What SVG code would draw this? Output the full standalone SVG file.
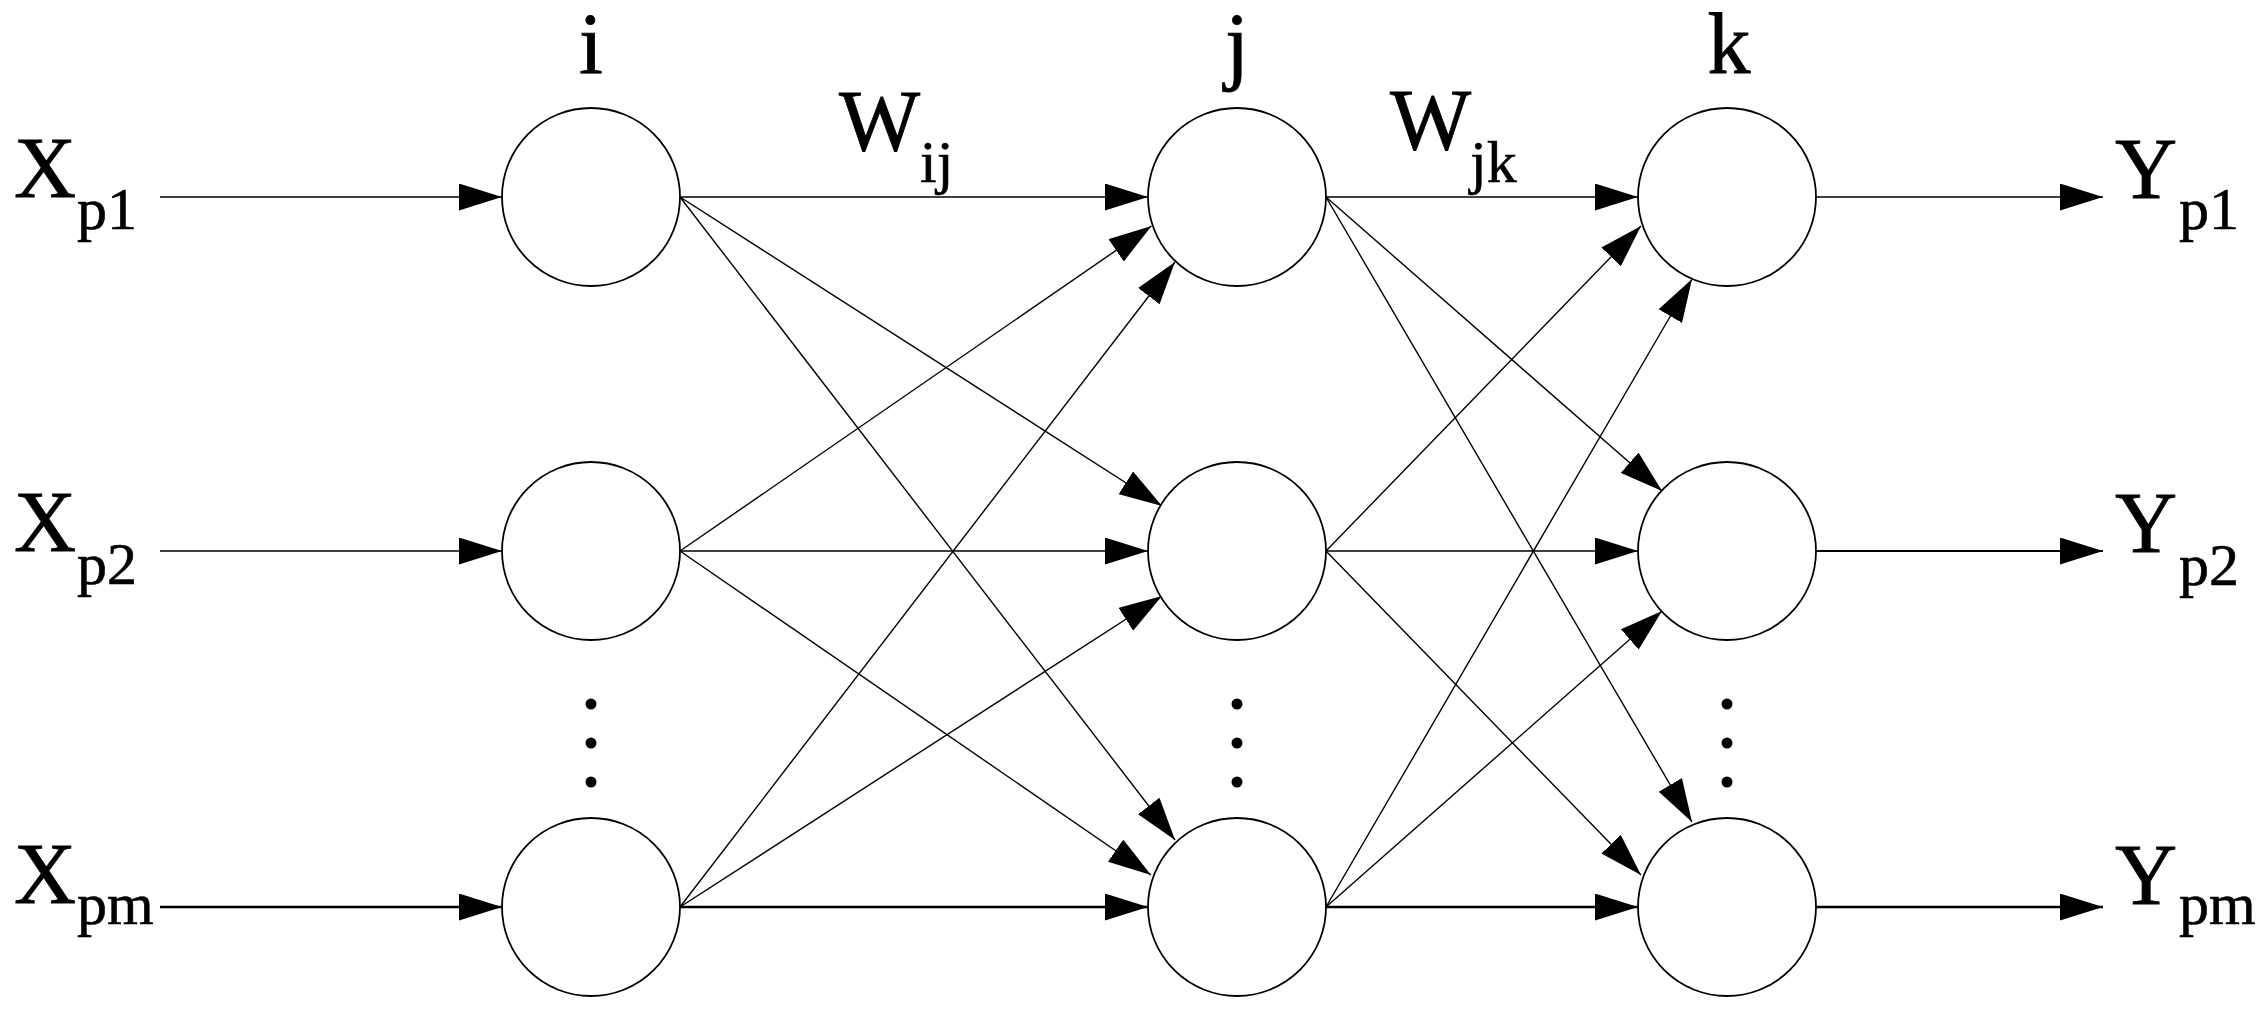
<svg xmlns="http://www.w3.org/2000/svg" width="2267" height="1014" viewBox="0 0 2267 1014">
<style>
.bg{fill:#fff}
.node{fill:#fff;stroke:#000;stroke-width:1.8}
.c{stroke:#000;stroke-width:1.4;fill:none;marker-end:url(#ah)}
.c.thick{stroke-width:2.4}
.c.mid{stroke-width:1.9}
.t{font-family:"Liberation Serif","Times New Roman",serif;fill:#000;stroke:#000;stroke-width:0.8;font-size:86px}
.s{font-size:60px;stroke-width:0.6}
.dot{fill:#000}
</style>
<defs>
<marker id="ah" markerUnits="userSpaceOnUse" markerWidth="43" markerHeight="27" refX="43" refY="13.5" orient="auto" viewBox="0 0 43 27">
<path d="M0,0 L43,13.5 L0,27 Z" fill="#000"/>
</marker>
</defs>
<rect class="bg" x="0" y="0" width="2267" height="1014"/>

<g id="connectors">
<!-- inputs -->
<line class="c" x1="160" y1="197" x2="502" y2="197"/>
<line class="c" x1="160" y1="551" x2="502" y2="551"/>
<line class="c thick" x1="160" y1="907" x2="502" y2="907"/>
<!-- i to j -->
<line class="c" x1="680" y1="197" x2="1148" y2="197"/>
<line class="c" x1="680" y1="197" x2="1162" y2="506"/>
<line class="c" x1="680" y1="197" x2="1175" y2="840"/>
<line class="c" x1="680" y1="551" x2="1151.5" y2="226"/>
<line class="c" x1="680" y1="551" x2="1148" y2="551"/>
<line class="c" x1="680" y1="551" x2="1151" y2="875"/>
<line class="c" x1="680" y1="907" x2="1175" y2="262"/>
<line class="c" x1="680" y1="907" x2="1162" y2="596"/>
<line class="c thick" x1="680" y1="907" x2="1148" y2="907"/>
<!-- j to k -->
<line class="c" x1="1326" y1="197" x2="1638" y2="197"/>
<line class="c" x1="1326" y1="197" x2="1662" y2="491"/>
<line class="c" x1="1326" y1="197" x2="1692" y2="822"/>
<line class="c" x1="1326" y1="551" x2="1641" y2="226"/>
<line class="c" x1="1326" y1="551" x2="1638" y2="551"/>
<line class="c" x1="1326" y1="551" x2="1641" y2="875"/>
<line class="c" x1="1326" y1="907" x2="1692" y2="279"/>
<line class="c" x1="1326" y1="907" x2="1662" y2="611"/>
<line class="c thick" x1="1326" y1="907" x2="1638" y2="907"/>
<!-- outputs -->
<line class="c" x1="1816" y1="197" x2="2103" y2="197"/>
<line class="c mid" x1="1816" y1="551" x2="2103" y2="551"/>
<line class="c thick" x1="1816" y1="907" x2="2103" y2="907"/>
</g>

<g id="node-i1"><circle class="node" cx="591" cy="197" r="89"/></g>
<g id="node-i2"><circle class="node" cx="591" cy="551" r="89"/></g>
<g id="node-i3"><circle class="node" cx="591" cy="907" r="89"/></g>
<g id="node-j1"><circle class="node" cx="1237" cy="197" r="89"/></g>
<g id="node-j2"><circle class="node" cx="1237" cy="551" r="89"/></g>
<g id="node-j3"><circle class="node" cx="1237" cy="907" r="89"/></g>
<g id="node-k1"><circle class="node" cx="1727" cy="197" r="89"/></g>
<g id="node-k2"><circle class="node" cx="1727" cy="551" r="89"/></g>
<g id="node-k3"><circle class="node" cx="1727" cy="907" r="89"/></g>

<g id="ellipsis-dots">
<circle class="dot" cx="591" cy="704" r="5.5"/>
<circle class="dot" cx="591" cy="743" r="5.5"/>
<circle class="dot" cx="591" cy="782" r="5.5"/>
<circle class="dot" cx="1237" cy="704" r="5.5"/>
<circle class="dot" cx="1237" cy="743" r="5.5"/>
<circle class="dot" cx="1237" cy="782" r="5.5"/>
<circle class="dot" cx="1727" cy="704" r="5.5"/>
<circle class="dot" cx="1727" cy="743" r="5.5"/>
<circle class="dot" cx="1727" cy="782" r="5.5"/>
</g>

<g id="labels">
<text class="t" x="591" y="73" text-anchor="middle">i</text>
<text class="t" x="1237" y="73" text-anchor="middle">j</text>
<text class="t" x="1729" y="73" text-anchor="middle">k</text>
<text class="t" x="839" y="150">W</text>
<text class="t s" x="920" y="182">ij</text>
<text class="t" x="1390" y="149">W</text>
<text class="t s" x="1470" y="182">jk</text>

<text class="t" x="14" y="197">X</text>
<text class="t s" x="77" y="229">p1</text>
<text class="t" x="14" y="551">X</text>
<text class="t s" x="77" y="584">p2</text>
<text class="t" x="14" y="903">X</text>
<text class="t s" x="77" y="924">pm</text>

<text class="t" x="2115" y="198">Y</text>
<text class="t s" x="2179" y="229">p1</text>
<text class="t" x="2115" y="552">Y</text>
<text class="t s" x="2179" y="585">p2</text>
<text class="t" x="2115" y="904">Y</text>
<text class="t s" x="2179" y="924">pm</text>
</g>
</svg>
